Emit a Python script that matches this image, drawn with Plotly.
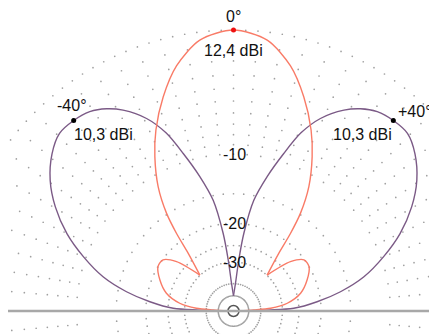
import numpy as np
import plotly.graph_objects as go

# Elevation pattern. Angles measured from the zenith (deg), gains in dB
# relative to the 12.4 dBi maximum. Both patterns are symmetric, so only
# the right half is listed and mirrored below.
red_main_angle = [0, 7.1, 13.1, 18.2, 23.2, 27.0, 31.2, 34.4, 36.3, 38.1, 43.1]
red_main_db = [0, -0.5, -1.9, -3.8, -6.1, -8.3, -11.3, -14.8, -18.4, -23.0, -29.9]
red_side_angle = [43.1, 49.1, 54.0, 59.5, 67.2, 75.2, 81.8, 85.8, 87.2, 90]
red_side_db = [-29.9, -22.6, -20.1, -20.0, -21.6, -24.0, -28.2, -34.7, -45.0, -70.0]

purple_angle = [0, 4.1, 5.9, 7.6, 10.4, 14.1, 17.7, 20.7, 24.3, 28.8, 32.1, 35.8,
                40, 44.4, 49.1, 54.5, 59.7, 65.1, 70.1, 75.3, 79.8, 83.7, 87.4, 90]
purple_db = [-50, -39.7, -29.2, -21.9, -15.7, -12.1, -9.1, -6.7, -4.9, -3.5, -2.8, -2.3,
             -2.1, -2.1, -2.7, -3.8, -5.3, -7.3, -9.7, -12.6, -16.3, -20.7, -26.4, -70]

peak_angle = [0, -40, 40]
peak_db = [0, -2.1, -2.1]
peak_angle_text = ["0°", "-40°", "+40°"]
peak_gain_text = ["12,4 dBi", "10,3 dBi", "10,3 dBi"]

grid_db = [0, -1, -2, -3, -4, -5, -6, -7, -8, -9, -10, -15, -20, -25, -30, -40, -50]
label_db = [-10, -20, -30]

RED = "#f97b67"
PURPLE = "#7b5a86"
R0 = 281  # radius of the 0 dB ring
PAGE_OFFSET = 8  # the page body margin pushes the figure by this much


def to_xy(angle, db):
    """ARRL log scale: radius shrinks by 0.89 every 2 dB"""
    r = R0 * 0.89 ** (-np.asarray(db, dtype=float) / 2)
    a = np.radians(angle)
    return r * np.sin(a), r * np.cos(a)


def line(angle, db, color):
    x, y = to_xy(angle, db)
    return go.Scatter(x=x, y=y, mode="lines", line=dict(color=color, width=1.4, shape="spline", smoothing=0.8),
                      hoverinfo="skip", showlegend=False)


fig = go.Figure()

# dotted grid: one dot every 5 degrees on each ring, so the dots also line up radially
for db in grid_db:
    step = 2.5 if db == 0 else 5
    ang = np.arange(0, 360, step)
    x, y = to_xy(ang, [db] * len(ang))
    fig.add_trace(go.Scatter(x=x, y=y, mode="markers", marker=dict(size=1.7, color="#a0a0a0"),
                             hoverinfo="skip", showlegend=False))

# ground
fig.add_shape(type="line", x0=-226.5, x1=215, y0=0, y1=0, line=dict(color="#a8a8a8", width=2.5))

neg = lambda v: [-a for a in v]

# purple lobes (+/-40)
fig.add_trace(line(purple_angle, purple_db, PURPLE))
fig.add_trace(line(neg(purple_angle), purple_db, PURPLE))

# red pattern (0)
fig.add_trace(line(neg(red_main_angle[::-1]) + red_main_angle[1:], red_main_db[::-1] + red_main_db[1:], RED))
fig.add_trace(line(red_side_angle, red_side_db, RED))
fig.add_trace(line(neg(red_side_angle), red_side_db, RED))

# peak markers
px_, py_ = to_xy(peak_angle, peak_db)
fig.add_trace(go.Scatter(x=px_, y=py_, mode="markers", marker=dict(size=5, color=["#ee1111", "black", "black"]),
                         hoverinfo="skip", showlegend=False))

# feed point
fig.add_trace(go.Scatter(x=[0], y=[0], mode="markers",
                         marker=dict(size=11, color="white", line=dict(color="#555", width=1.5)),
                         hoverinfo="skip", showlegend=False))

font = dict(family="Arial, Liberation Sans", size=16, color="#111")
angle_shift = [(0, 14), (-2, 15), (22, 9)]
gain_shift = [(0, -20), (30, -14), (-31, -14)]
for i in range(3):
    fig.add_annotation(x=px_[i], y=py_[i], text=peak_angle_text[i], showarrow=False, font=font,
                       xshift=angle_shift[i][0], yshift=angle_shift[i][1])
    fig.add_annotation(x=px_[i], y=py_[i], text=peak_gain_text[i], showarrow=False, font=font,
                       xshift=gain_shift[i][0], yshift=gain_shift[i][1])

lx, ly = to_xy([0] * len(label_db), label_db)
for x, y, db in zip(lx, ly, label_db):
    fig.add_annotation(x=x, y=y, text=str(db), showarrow=False, font=font, xshift=1, yshift=0)

x_left, y_top = -233.5 + PAGE_OFFSET, 311 - PAGE_OFFSET
fig.update_layout(
    width=437, height=334,
    margin=dict(l=0, r=0, t=0, b=0),
    paper_bgcolor="white", plot_bgcolor="white",
    xaxis=dict(range=[x_left, x_left + 437], visible=False, fixedrange=True),
    yaxis=dict(range=[y_top - 334, y_top], visible=False, fixedrange=True),
)

fig.write_html("out.html")
